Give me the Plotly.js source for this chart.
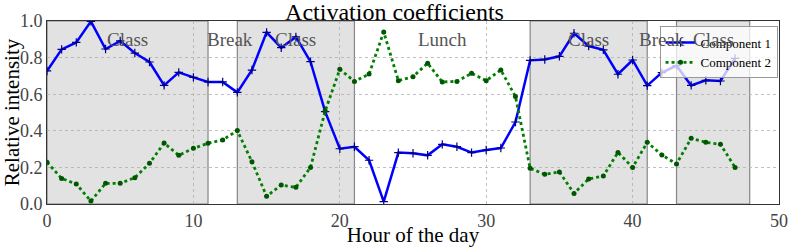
<!DOCTYPE html>
<html>
<head>
<meta charset="utf-8">
<script src="https://cdn.plot.ly/plotly-3.0.1.min.js"></script>
<style>html,body{margin:0;padding:0;background:#fff;}#chart{width:789px;height:247px;}</style>
</head>
<body>
<div id="chart"></div>
<script>
const hours = [0,1,2,3,4,5,6,7,8,9,10,11,12,13,14,15,16,17,18,19,20,21,22,23,24,25,26,27,28,29,30,31,32,33,34,35,36,37,38,39,40,41,42,43,44,45,46,47];
const component1 = [0.727,0.845,0.883,0.998,0.847,0.891,0.825,0.776,0.648,0.719,0.692,0.667,0.667,0.610,0.732,0.938,0.854,0.913,0.778,0.505,0.302,0.313,0.239,0.013,0.281,0.277,0.266,0.326,0.313,0.281,0.295,0.306,0.448,0.785,0.790,0.807,0.933,0.863,0.842,0.709,0.787,0.647,0.718,0.756,0.648,0.676,0.672,0.796];
const component2 = [0.228,0.140,0.109,0.016,0.113,0.113,0.144,0.222,0.333,0.266,0.304,0.332,0.350,0.401,0.231,0.042,0.104,0.091,0.200,0.508,0.736,0.670,0.710,0.940,0.674,0.696,0.769,0.667,0.670,0.714,0.674,0.732,0.587,0.195,0.162,0.175,0.058,0.137,0.153,0.282,0.200,0.337,0.268,0.219,0.359,0.337,0.326,0.200];
const shadeStart = [0,13,33,43];
const shadeEnd = [11,21,41,48];
const periodLabels = ["Class","Break","Class","Lunch","Class","Break","Class"];
const periodCenters = [5.5,12.5,17,27,37,42,45.5];
const xTicks = [0,10,20,30,40,50];
const yTicks = [0.0,0.2,0.4,0.6,0.8,1.0];

const serif = "Liberation Serif, Times New Roman, serif";

const traces = [
  {x: hours, y: component1, name: "Component 1", mode: "lines+markers",
   line: {color: "#0000ff", width: 2.5},
   marker: {symbol: "cross-thin-open", size: 6, color: "#000080", line: {color: "#000080", width: 1.2}}},
  {x: hours, y: component2, name: "Component 2", mode: "lines+markers",
   line: {color: "#008000", width: 2.8, dash: "dot"},
   marker: {symbol: "circle", size: 5, color: "#005500"}}
];

const shapes = [];
shadeStart.forEach((s, i) => {
  shapes.push({type: "rect", xref: "x", yref: "paper", x0: s, x1: shadeEnd[i], y0: 0, y1: 1,
    fillcolor: "rgba(190,190,190,0.45)", line: {color: "rgba(90,90,90,0.7)", width: 1.2}, layer: "below"});
});

const annotations = periodLabels.map((t, i) => ({
  x: periodCenters[i], y: 0.9, xref: "x", yref: "y", text: t, showarrow: false,
  font: {family: serif, size: 19, color: "#555555"}
}));

const layout = {
  width: 789, height: 247,
  margin: {l: 47, r: 10, t: 21, b: 43},
  paper_bgcolor: "#ffffff", plot_bgcolor: "#ffffff",
  title: {text: "Activation coefficients", font: {family: serif, size: 24, color: "#000"}, x: 0.5, xanchor: "center", yref: "container", y: 0.988, yanchor: "top", pad: {t: 0}},
  font: {family: serif, color: "#000"},
  xaxis: {range: [0, 50], tickvals: xTicks, ticktext: xTicks.map(String), showgrid: true,
    gridcolor: "#b0b0b0", griddash: "dot", gridwidth: 0.8, zeroline: false, showline: true, mirror: true,
    linecolor: "#333", linewidth: 1, ticks: "", tickfont: {family: serif, size: 18, color: "#444"},
    title: {text: "Hour of the day", font: {family: serif, size: 21}, standoff: 0}},
  yaxis: {range: [0, 1], tickvals: yTicks, ticktext: yTicks.map(v => v.toFixed(1)), showgrid: true,
    gridcolor: "#b0b0b0", griddash: "dot", gridwidth: 0.8, zeroline: false, showline: true, mirror: true,
    linecolor: "#333", linewidth: 1, ticks: "", tickfont: {family: serif, size: 18, color: "#444"},
    title: {text: "Relative intensity", font: {family: serif, size: 21}, standoff: 0}},
  shapes: shapes,
  annotations: annotations,
  showlegend: true,
  legend: {x: 0.998, y: 0.97, xanchor: "right", yanchor: "top", bgcolor: "rgba(255,255,255,0.75)",
    bordercolor: "#999", borderwidth: 1, font: {family: serif, size: 13}, tracegroupgap: 0}
};

Plotly.newPlot("chart", traces, layout, {displayModeBar: false, staticPlot: true});
</script>
</body>
</html>
